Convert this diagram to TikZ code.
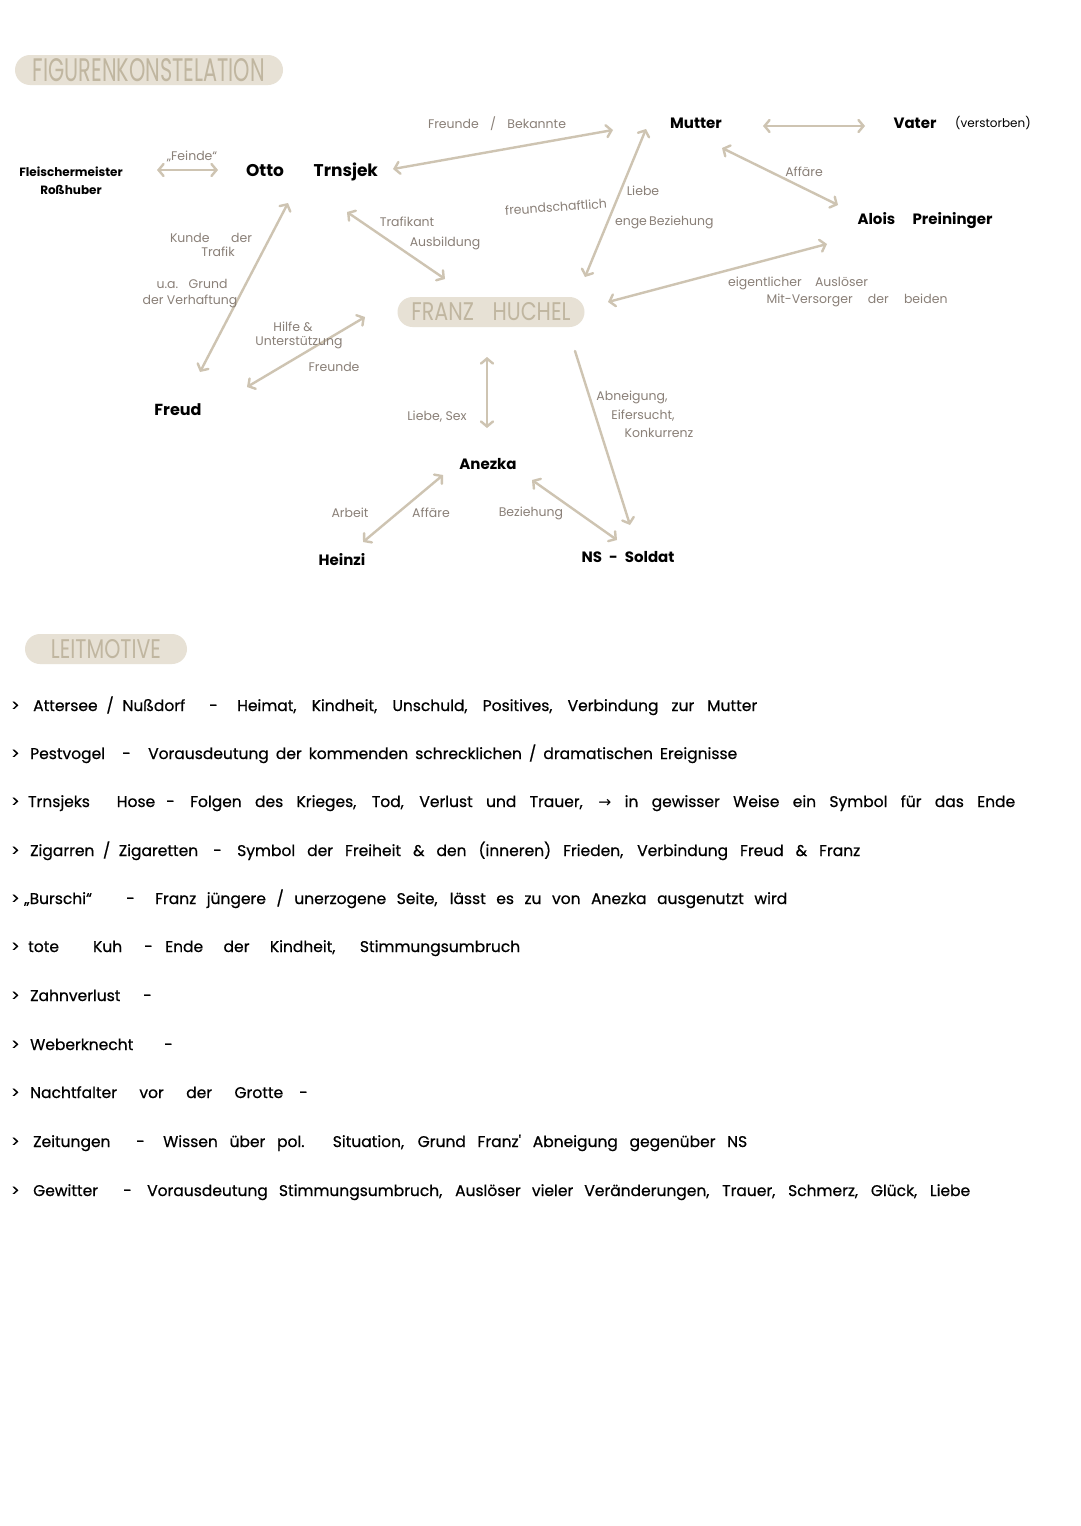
\documentclass[tikz,border=0pt]{standalone}
\usepackage{fontspec}
\usepackage{graphicx}
\setmainfont{Poppins}
\newfontfamily\lmfont[FakeBold=0.6]{Poppins}
\newfontfamily\arrowfont{DejaVu Sans}
\usetikzlibrary{arrows.meta}
\definecolor{arrc}{RGB}{206,196,178}
\definecolor{lblc}{RGB}{138,128,120}
\definecolor{pillc}{RGB}{231,225,213}
\definecolor{pilltc}{RGB}{192,182,160}
\begin{document}
\begin{tikzpicture}[x=1pt,y=-1pt,
  nm/.style={font=\fontsize{15}{17}\selectfont\bfseries, text=black, inner sep=0pt},
  lb/.style={font=\fontsize{12.5}{14}\selectfont, text=lblc, inner sep=0pt},
  lm/.style={font=\fontsize{15.5}{17}\lmfont\selectfont, text=black, inner sep=0pt, anchor=base west},
  pill/.style={fill=pillc, rounded corners=15pt, inner sep=0pt, text=pilltc},
  rel/.style={draw=arrc, line width=2.4pt, line cap=round, line join=round,
    {Straight Barb[length=5pt,width=12pt,line cap=round]}-{Straight Barb[length=5pt,width=12pt,line cap=round]}},
  relone/.style={draw=arrc, line width=2.4pt, line cap=round, line join=round,
    -{Straight Barb[length=5pt,width=12pt,line cap=round]}}
]
\useasboundingbox (0,0) rectangle (1080,1526);
\fill[white] (0,0) rectangle (1080,1526);

% ---------- headings ----------
\node[pill, minimum width=268pt, minimum height=30pt] (fk) at (149,70) {\resizebox{232pt}{23pt}{FIGURENKONSTELATION}};
\node[pill, minimum width=187pt, minimum height=30pt] (franz) at (491,312) {\resizebox{159pt}{18pt}{FRANZ\hspace{0.9em}HUCHEL}};
\node[pill, minimum width=162pt, minimum height=30pt] (lmh) at (106,649) {\resizebox{110pt}{19pt}{LEITMOTIVE}};

% ---------- characters ----------
\node[nm, font=\fontsize{12}{18}\selectfont\bfseries, align=center] (ross) at (71,181) {Fleischermeister\\Roßhuber};
\node[nm, font=\fontsize{17}{19}\selectfont\bfseries] (otto) at (312,172) {\makebox[132pt][s]{Otto Trnsjek}};
\node[nm] (mutter) at (696,123) {Mutter};
\node[nm] (vater) at (915,123) {Vater};
\node[inner sep=0pt, font=\fontsize{12}{14}\selectfont] (verst) at (993,123) {(verstorben)};
\node[nm] (alois) at (925,221) {\makebox[135pt][s]{Alois Preininger}};
\node[nm, font=\fontsize{16}{18}\selectfont\bfseries] (freud) at (178,410) {Freud};
\node[nm] (anezka) at (488,464) {Anezka};
\node[nm] (heinzi) at (342,560) {Heinzi};
\node[nm] (ns) at (628,557) {\makebox[93pt][s]{NS - Soldat}};

% ---------- connector end points ----------
\coordinate (fe1) at (157,170);  \coordinate (fe2) at (218,170);
\coordinate (fb1) at (393,169);  \coordinate (fb2) at (613,130);
\coordinate (mv1) at (763,126);  \coordinate (mv2) at (865,126);
\coordinate (af1) at (722,148);  \coordinate (af2) at (838,205);
\coordinate (fa1) at (608,302);  \coordinate (fa2) at (827,244);
\coordinate (mf1) at (646,129);  \coordinate (mf2) at (585,277);
\coordinate (of1) at (347,212);  \coordinate (of2) at (445,279);
\coordinate (or1) at (288,203);  \coordinate (or2) at (200,372);
\coordinate (ff1) at (365,317);  \coordinate (ff2) at (247,387);
\coordinate (fz1) at (487,357);  \coordinate (fz2) at (487,428);
\coordinate (fn1) at (575,351);  \coordinate (fn2) at (630,525);
\coordinate (ah1) at (443,475);  \coordinate (ah2) at (363,542);
\coordinate (an1) at (532,480);  \coordinate (an2) at (617,540);

\draw[rel] (fe1) -- (fe2);
\draw[rel] (fb1) -- (fb2);
\draw[rel] (mv1) -- (mv2);
\draw[rel] (af1) -- (af2);
\draw[rel] (fa1) -- (fa2);
\draw[rel] (mf1) -- (mf2);
\draw[rel] (of1) -- (of2);
\draw[rel] (or1) -- (or2);
\draw[rel] (ff1) -- (ff2);
\draw[rel] (fz1) -- (fz2);
\draw[relone] (fn1) -- (fn2);
\draw[rel] (ah1) -- (ah2);
\draw[rel] (an1) -- (an2);

% ---------- relation labels ----------
\node[lb] (lfeinde) at (192,156) {„Feinde“};
\node[lb] (lfb) at (497,124) {\makebox[138pt][s]{Freunde / Bekannte}};
\node[lb] (laff) at (804,172) {Affäre};
\node[lb] (lausl) at (798,283) {\makebox[140pt][s]{eigentlicher Auslöser}};
\node[lb] (lmitv) at (857,300) {\makebox[181pt][s]{Mit-Versorger der beiden}};
\node[lb, rotate=4] (lfreund) at (556,207) {freundschaftlich};
\node[lb] (lliebe) at (643,191) {Liebe};
\node[lb] (lenge) at (664,222) {\makebox[98pt][s]{enge Beziehung}};
\node[lb] (ltraf) at (407,222) {Trafikant};
\node[lb] (lausb) at (445,243) {Ausbildung};
\node[lb] (lkunde) at (211,238) {\makebox[82pt][s]{Kunde der}};
\node[lb] (ltrafik) at (218,252) {Trafik};
\node[lb] (lgrund) at (192,284) {\makebox[71pt][s]{u.a. Grund}};
\node[lb] (lverh) at (190,301) {der Verhaftung};
\node[lb] (lhilfe) at (293,327) {Hilfe \&};
\node[lb] (lunter) at (299,343) {Unterstützung};
\node[lb] (lfreunde) at (334,367) {Freunde};
\node[lb] (lsex) at (437,417) {Liebe, Sex};
\node[lb] (labn) at (632,397) {Abneigung,};
\node[lb] (leif) at (643,416) {Eifersucht,};
\node[lb] (lkonk) at (659,433) {Konkurrenz};
\node[lb] (larb) at (350,513) {Arbeit};
\node[lb] (laff2) at (431,513) {Affäre};
\node[lb] (lbez) at (531,513) {Beziehung};

% ---------- Leitmotive ----------
\foreach \yy [count=\i] in {706,754,802,851,899,947,996,1045,1093,1142,1191}
  \node[lm] (b\i) at (11,\yy+5) {>};

\node[lm] (t1) at (33,711) {\makebox[152pt][s]{Attersee / Nußdorf}};
\node[lm] (d1) at (209,711) {-};
\node[lm] (x1) at (237,711) {\makebox[520pt][s]{Heimat, Kindheit, Unschuld, Positives, Verbindung zur Mutter}};

\node[lm] (t2) at (30,759) {Pestvogel};
\node[lm] (d2) at (122,759) {-};
\node[lm] (x2) at (148,759) {\makebox[589pt][s]{Vorausdeutung der kommenden schrecklichen / dramatischen Ereignisse}};

\node[lm] (t3) at (28,807) {\makebox[127pt][s]{Trnsjeks Hose}};
\node[lm] (d3) at (166,807) {-};
\node[lm] (x3) at (190,807) {\makebox[825pt][s]{Folgen des Krieges, Tod, Verlust und Trauer, {\arrowfont →} in gewisser Weise ein Symbol für das Ende}};

\node[lm] (t4) at (30,856) {\makebox[168pt][s]{Zigarren / Zigaretten}};
\node[lm] (d4) at (213,856) {-};
\node[lm] (x4) at (237,856) {\makebox[623pt][s]{Symbol der Freiheit \& den (inneren) Frieden, Verbindung Freud \& Franz}};

\node[lm] (t5) at (24,904) {„Burschi“};
\node[lm] (d5) at (126,904) {-};
\node[lm] (x5) at (155,904) {\makebox[632pt][s]{Franz jüngere / unerzogene Seite, lässt es zu von Anezka ausgenutzt wird}};

\node[lm] (t6) at (28,952) {\makebox[94pt][s]{tote Kuh}};
\node[lm] (d6) at (144,952) {-};
\node[lm] (x6) at (165,952) {\makebox[355pt][s]{Ende der Kindheit, Stimmungsumbruch}};

\node[lm] (t7) at (30,1001) {Zahnverlust};
\node[lm] (d7) at (143,1001) {-};

\node[lm] (t8) at (30,1050) {Weberknecht};
\node[lm] (d8) at (164,1050) {-};

\node[lm] (t9) at (30,1098) {\makebox[253pt][s]{Nachtfalter vor der Grotte}};
\node[lm] (d9) at (299,1098) {-};

\node[lm] (t10) at (33,1147) {Zeitungen};
\node[lm] (d10) at (136,1147) {-};
\node[lm] (x10) at (163,1147) {\makebox[584pt][s]{Wissen über pol. Situation, Grund Franz' Abneigung gegenüber NS}};

\node[lm] (t11) at (33,1196) {Gewitter};
\node[lm] (d11) at (123,1196) {-};
\node[lm] (x11) at (147,1196) {\makebox[823pt][s]{Vorausdeutung Stimmungsumbruch, Auslöser vieler Veränderungen, Trauer, Schmerz, Glück, Liebe}};
\end{tikzpicture}
\end{document}
